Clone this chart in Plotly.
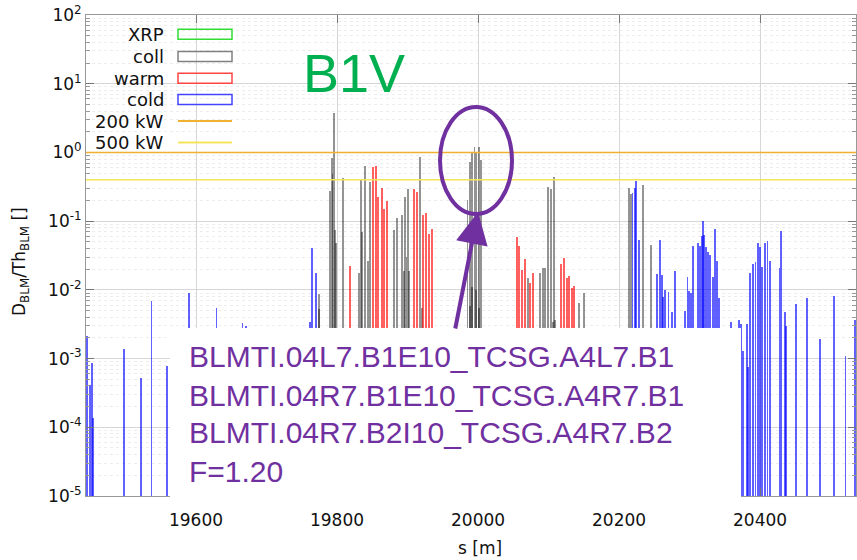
import plotly.graph_objects as go

# ---- loss map data: longitudinal position s [m] and D_BLM/Th_BLM ----
xrp_s = []
xrp_v = []

coll_s = [19774.0, 19774.0, 19790.0, 19792.5, 19793.5, 19796.0, 19797.0, 19799.0,
          19808.5, 19831.5, 19834.0, 19836.0, 19839.5, 19843.5, 19847.0,
          19881.0, 19884.5, 19892.5, 19894.5, 19896.5, 19898.5, 19900.5, 19902.5,
          19918.0, 19920.0,
          19985.0, 19988.5, 19992.0, 19995.0, 19997.0, 20001.0, 20004.5,
          19988.5, 19992.0, 19997.0, 20001.0,
          20070.5, 20088.0, 20092.0, 20095.5, 20099.5, 20103.0, 20107.5,
          20106.0, 20109.5,
          20143.5, 20150.0, 20214.0, 20216.5, 20233.5, 20245.5]
coll_v = [0.0087, 0.0053, 0.277, 0.82, 0.485, 3.78, 0.074, 0.048,
          0.42, 0.0174, 0.406, 0.069, 0.63, 0.0265, 0.375,
          0.074, 0.113, 0.123, 0.019, 0.226, 0.0297, 0.29, 0.019,
          0.85, 0.0054,
          0.20, 0.73, 1.02, 1.20, 1.0, 1.20, 0.775,
          0.0058, 0.011, 0.0101, 0.0055,
          0.0147, 0.0178, 0.0205, 0.0205, 0.31, 0.296, 0.44,
          0.0034, 0.0037,
          0.0065, 0.0091, 0.30, 0.248, 0.34, 0.0445]

warm_s = [19818.5, 19851.5, 19855.0, 19858.5, 19863.5, 19866.5, 19870.5,
          19909.5, 19913.0, 19922.5, 19926.0, 19930.5, 19934.5,
          20055.0, 20058.5, 20062.0, 20066.0, 20074.0, 20078.5,
          20117.5, 20122.0, 20126.0, 20129.5, 20133.0, 20136.0]
warm_v = [0.0224, 0.62, 0.63, 0.226, 0.30, 0.152, 0.198,
          0.29, 0.27, 0.123, 0.13, 0.066, 0.077,
          0.059, 0.043, 0.0194, 0.0278, 0.0124, 0.0178,
          0.0237, 0.029, 0.0147, 0.016, 0.0107, 0.0113]

cold_s = [19446.0, 19450.0, 19452.0, 19453.5, 19498.0, 19522.0, 19537.0, 19559.0,
          19590.0, 19629.0, 19666.0, 19671.0, 19762.0, 19765.0, 19770.0,
          20219.0, 20222.0, 20224.0, 20228.0,
          20253.5, 20258.0, 20260.5, 20262.5, 20265.0, 20270.0, 20275.5, 20279.5,
          20293.5, 20297.0, 20299.5, 20302.0, 20304.5, 20311.5, 20315.0, 20317.5,
          20318.5, 20320.5, 20323.5, 20326.0, 20329.0, 20333.0, 20336.0, 20338.5,
          20342.0, 20359.0, 20370.5, 20373.0, 20375.5, 20381.5, 20383.0,
          20386.0, 20390.5, 20393.5, 20397.5, 20400.0, 20402.5, 20406.5, 20410.5,
          20414.0, 20427.5, 20430.0, 20435.0, 20437.0, 20451.0, 20467.0, 20485.0,
          20505.0, 20521.0, 20535.0]
cold_v = [0.0021, 0.00041, 0.00085, 0.000135, 0.0014, 0.00052, 0.0069, 0.00079,
          0.0091, 0.0054, 0.0033, 0.0030, 0.0034, 0.040, 0.0175,
          0.26, 0.30, 0.39, 0.054,
          0.0168, 0.053, 0.0163, 0.0079, 0.0099, 0.0094, 0.0048, 0.0188,
          0.0050, 0.0155, 0.0096, 0.0089, 0.043, 0.0485, 0.043, 0.061,
          0.101, 0.063, 0.042, 0.036, 0.032, 0.0155, 0.076, 0.0265,
          0.0075, 0.0034, 0.0036, 0.0032, 0.0013, 0.0032, 0.00076,
          0.0178, 0.0237, 0.0256, 0.0475, 0.0417, 0.0213, 0.0485, 0.051,
          0.0265, 0.0205, 0.0726, 0.0048, 0.0030, 0.0062, 0.0077, 0.0019,
          0.0082, 0.0011, 0.0037]

power_labels = ["200 kW", "500 kW"]
power_levels = [1.0, 0.4]

highlight_lines = ["BLMTI.04L7.B1E10_TCSG.A4L7.B1",
                   "BLMTI.04R7.B1E10_TCSG.A4R7.B1",
                   "BLMTI.04R7.B2I10_TCSG.A4R7.B2",
                   "F=1.20"]

x_ticks = [19600, 19800, 20000, 20200, 20400]
y_decades = [-5, -4, -3, -2, -1, 0, 1, 2]

# ---- styling ----
W, H = 857, 560
L, R, T, B = 86, 1, 15, 64
PW, PH = W - L - R, H - T - B

COLL = "rgba(0,0,0,0.42)"
WARM = "rgba(255,0,0,0.62)"
COLD = "rgba(0,0,255,0.62)"
XRP = "rgba(0,230,0,0.8)"
ORANGE = "#f0b030"
YELLOW = "#f5e35a"
PURPLE = "#7030a0"
GREEN = "#00b050"
TXT = "DejaVu Sans, Verdana, sans-serif"
ARIAL = "Liberation Sans, Arial, sans-serif"
BAR_W = 2.6


def px(x, y):
    """pixel position in the page -> paper coordinates"""
    return (x - L) / PW, (H - B - y) / PH


fig = go.Figure()
for s, v, c in [(coll_s, coll_v, COLL), (warm_s, warm_v, WARM),
                (cold_s, cold_v, COLD), (xrp_s, xrp_v, XRP)]:
    fig.add_trace(go.Bar(x=s, y=v, width=BAR_W, marker=dict(color=c, line_width=0),
                         showlegend=False, hoverinfo="x+y"))

shapes = []
annotations = []

# power-level reference lines
for lvl, col in zip(power_levels, [ORANGE, YELLOW]):
    shapes.append(dict(type="line", xref="paper", yref="y", x0=0, x1=1, y0=lvl, y1=lvl,
                       line=dict(color=col, width=1.6), layer="above"))

# legend (labels to the left of the keys)
leg_rows = [34.3, 56.5, 78.2, 99.5, 121.0, 142.5]
leg_items = [("XRP", "box", "#33dd33"), ("coll", "box", "#808080"),
             ("warm", "box", "#ff4444"), ("cold", "box", "#4444ff"),
             (power_labels[0], "line", ORANGE), (power_labels[1], "line", YELLOW)]
for yc, (lab, kind, col) in zip(leg_rows, leg_items):
    tx, ty = px(166, yc)
    annotations.append(dict(x=tx, y=ty, xref="paper", yref="paper", text=lab,
                            showarrow=False, xanchor="right", yanchor="middle",
                            font=dict(family=TXT, size=18, color="#111111")))
    x0, y0 = px(178, yc - 5)
    x1, y1 = px(232, yc + 5)
    if kind == "box":
        shapes.append(dict(type="rect", xref="paper", yref="paper", x0=x0, x1=x1,
                           y0=y0, y1=y1, line=dict(color=col, width=1.5),
                           fillcolor="rgba(0,0,0,0)", layer="above"))
    else:
        ym = px(0, yc)[1]
        shapes.append(dict(type="line", xref="paper", yref="paper", x0=x0, x1=x1,
                           y0=ym, y1=ym, line=dict(color=col, width=1.8), layer="above"))

# white label panel over the lower part of the plot
bx0, by0 = px(170, 328)
bx1, by1 = px(741, 506)
shapes.append(dict(type="rect", xref="paper", yref="paper", x0=bx0, x1=bx1, y0=by1, y1=by0,
                   fillcolor="white", line=dict(width=0), layer="above"))

# highlight ellipse around the TCSG peaks
ex0, ey0 = px(440, 107)
ex1, ey1 = px(512, 214)
shapes.append(dict(type="circle", xref="paper", yref="paper", x0=ex0, x1=ex1, y0=ey1, y1=ey0,
                   line=dict(color=PURPLE, width=4), fillcolor="rgba(0,0,0,0)", layer="above"))

for i, line in enumerate(highlight_lines):
    tx, ty = px(187, 357 + i * 38)
    annotations.append(dict(x=tx, y=ty, xref="paper", yref="paper", text=line,
                            showarrow=False, xanchor="left", yanchor="middle",
                            font=dict(family=ARIAL, size=30, color=PURPLE)))

# arrow from the panel to the ellipse
ax_, ay_ = px(478, 212)
annotations.append(dict(x=ax_, y=ay_, xref="paper", yref="paper", text="", showarrow=True,
                        ax=-23, ay=118, arrowhead=2, arrowsize=1.6, arrowwidth=4,
                        arrowcolor=PURPLE))

# plane label
tx, ty = px(354, 73)
annotations.append(dict(x=tx, y=ty, xref="paper", yref="paper", text="B1V",
                        showarrow=False, xanchor="center", yanchor="middle",
                        font=dict(family=ARIAL, size=54, color=GREEN)))

# axis titles
tx, ty = px(20, 262)
annotations.append(dict(x=tx, y=ty, xref="paper", yref="paper",
                        text="D<sub>BLM</sub>/Th<sub>BLM</sub> []", textangle=-90,
                        showarrow=False, xanchor="center", yanchor="middle",
                        font=dict(family=TXT, size=17, color="#111111")))
tx, ty = px(480, 548)
annotations.append(dict(x=tx, y=ty, xref="paper", yref="paper", text="s [m]",
                        showarrow=False, xanchor="center", yanchor="middle",
                        font=dict(family=TXT, size=17, color="#111111")))

minor_vals = [k * 10.0 ** e for e in range(-5, 2) for k in range(2, 10)]

fig.update_layout(
    width=W, height=H,
    margin=dict(l=L, r=R, t=T, b=B, pad=0),
    paper_bgcolor="white", plot_bgcolor="white",
    barmode="overlay", bargap=0,
    showlegend=False,
    shapes=shapes, annotations=annotations,
    xaxis=dict(range=[19444, 20536], tickvals=x_ticks, ticktext=[str(t) for t in x_ticks],
               ticks="inside", ticklen=8, tickcolor="#777777", mirror="allticks",
               showline=True, linecolor="#999999", linewidth=1, ticklabelstandoff=9,
               showgrid=True, gridcolor="#d6d6d6", gridwidth=1, zeroline=False,
               tickfont=dict(family=TXT, size=17, color="#111111")),
    yaxis=dict(type="log", range=[-5, 2],
               tickvals=[10.0 ** e for e in y_decades],
               ticktext=["10<sup>%d</sup>" % e for e in y_decades],
               ticks="inside", ticklen=8, tickcolor="#777777", mirror="allticks",
               showline=True, linecolor="#999999", linewidth=1,
               showgrid=True, gridcolor="#d6d6d6", gridwidth=1, zeroline=False,
               tickfont=dict(family=TXT, size=17, color="#111111"),
               minor=dict(tickvals=minor_vals, ticks="inside", ticklen=4,
                          tickcolor="#999999", showgrid=True, gridcolor="#ededed",
                          griddash="dot", gridwidth=1)),
)

fig.write_html("out.html")
